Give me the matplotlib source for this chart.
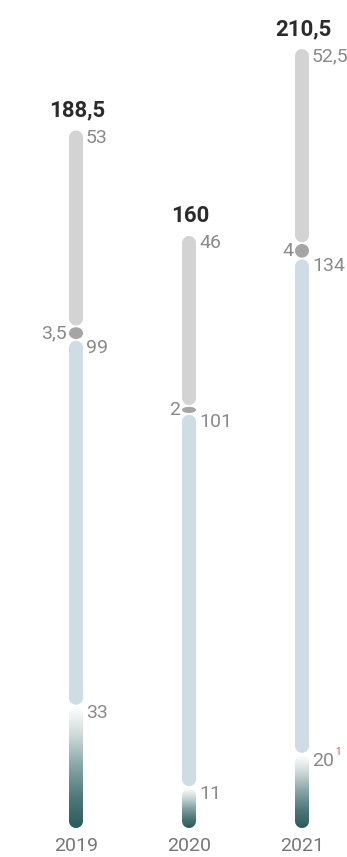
import numpy as np
import matplotlib
matplotlib.use("Agg")
import matplotlib.pyplot as plt
from matplotlib.path import Path
from matplotlib.patches import PathPatch, Ellipse
from matplotlib.colors import LinearSegmentedColormap

# ---- data ----
years = ["2019", "2020", "2021"]
seg_bottom = [33, 11, 20]          # gradient segment
seg_blue = [99, 101, 134]
seg_small = [3.5, 2, 4]            # grey dot
seg_top = [53, 46, 52.5]
totals = ["188,5", "160", "210,5"]
lbl_bottom = ["33", "11", "20"]
lbl_blue = ["99", "101", "134"]
lbl_small = ["3,5", "2", "4"]
lbl_top = ["53", "46", "52,5"]
footnote = [None, None, "1"]

# ---- styling ----
W, H = 347, 857
DPI = 100
PX_PER_UNIT = 3.70
BASE_PX = 29          # bar bottom distance from figure bottom (px)
X0_PX = 76            # centre of first bar (px)
STEP_PX = 113         # spacing between bars (px)
BAR_W_PX = 14
GAP_PX = 1.2

C_TOP = "#d3d3d3"
C_DOT = "#a5a5a5"
C_BLUE = "#cddde3"
C_TEAL = "#2b5a5c"
C_TXT = "#8a8a8a"
C_TOTAL = "#2b2b2b"
C_YEAR = "#777777"
C_RED = "#e8414b"

fig = plt.figure(figsize=(W / DPI, H / DPI), dpi=DPI)
ax = fig.add_axes([0, 0, 1, 1])
ax.set_xlim(-X0_PX / STEP_PX, (W - X0_PX) / STEP_PX)
ax.set_ylim(-BASE_PX / PX_PER_UNIT, (H - BASE_PX) / PX_PER_UNIT)
ax.axis("off")

ux = 1.0 / STEP_PX        # x data units per px
uy = 1.0 / PX_PER_UNIT    # y data units per px
rx = BAR_W_PX / 2 * ux
ry = BAR_W_PX / 2 * uy
gap = GAP_PX * uy


def capsule(xc, y0, y1):
    """Path of a vertical capsule (rounded ends) in data coords."""
    t = np.linspace(0, np.pi, 40)
    top_c = y1 - ry
    bot_c = y0 + ry
    xs_top = xc + rx * np.cos(t)
    ys_top = top_c + ry * np.sin(t)
    xs_bot = xc - rx * np.cos(t)
    ys_bot = bot_c - ry * np.sin(t)
    verts = np.vstack([np.column_stack([xs_top, ys_top]),
                       np.column_stack([xs_bot, ys_bot])])
    verts = np.vstack([verts, verts[:1]])
    codes = [Path.MOVETO] + [Path.LINETO] * (len(verts) - 2) + [Path.CLOSEPOLY]
    return Path(verts, codes)


cmap = LinearSegmentedColormap.from_list(
    "tealfade", ["#ffffff", "#c9d6d6", "#85a3a4", "#4f7878", C_TEAL])

fs_val = 14
fam = ["Roboto", "DejaVu Sans"]

for i, yr in enumerate(years):
    x = i
    b = seg_bottom[i]
    bl = seg_blue[i]
    sm = seg_small[i]
    tp = seg_top[i]

    # gradient bottom segment (white at top, dark teal at bottom)
    y0, y1 = 0, b
    p = capsule(x, y0, y1 - gap)
    patch = PathPatch(p, facecolor="none", edgecolor="none")
    ax.add_patch(patch)
    grad = np.linspace(0, 1, 256).reshape(-1, 1)
    im = ax.imshow(grad, cmap=cmap, aspect="auto",
                   extent=(x - rx, x + rx, y0, y1 - gap),
                   origin="upper", interpolation="bilinear", zorder=2)
    im.set_clip_path(patch)

    # blue segment
    y0, y1 = b, b + bl
    ax.add_patch(PathPatch(capsule(x, y0 + gap, y1 - gap),
                           facecolor=C_BLUE, edgecolor="none", zorder=2))

    # small grey dot
    y0, y1 = b + bl, b + bl + sm
    ax.add_patch(Ellipse((x, (y0 + y1) / 2), 2 * rx, (y1 - y0) - gap,
                         facecolor=C_DOT, edgecolor="none", zorder=3))

    # grey top segment
    y0, y1 = b + bl + sm, b + bl + sm + tp
    ax.add_patch(PathPatch(capsule(x, y0 + gap, y1),
                           facecolor=C_TOP, edgecolor="none", zorder=2))

    # labels
    dx = 10 * ux
    off = 7 * uy
    top_b = b
    top_bl = b + bl
    top_all = b + bl + sm + tp
    t_b = ax.text(x + dx, top_b - off, lbl_bottom[i], ha="left", va="center",
                  fontsize=fs_val, color=C_TXT, family=fam)
    ax.text(x + dx, top_bl - off - 1 * uy, lbl_blue[i], ha="left", va="center",
            fontsize=fs_val, color=C_TXT, family=fam)
    ax.text(x + dx, top_all - off, lbl_top[i], ha="left", va="center",
            fontsize=fs_val, color=C_TXT, family=fam)
    ax.text(x - 9 * ux, b + bl + sm / 2, lbl_small[i], ha="right", va="center",
            fontsize=fs_val, color=C_TXT, family=fam)
    if footnote[i]:
        ax.annotate(footnote[i], xy=(1.0, 1.0), xycoords=t_b,
                    xytext=(0.8, 3.5), textcoords="offset points",
                    ha="left", va="top", fontsize=7, color=C_RED, family=fam)

    # total
    ax.text(x + 1 * ux, top_all + 20 * uy, totals[i], ha="center", va="center",
            fontsize=16, fontweight="bold", color=C_TOTAL, family=fam)
    # year
    ax.text(x, -18 * uy, yr, ha="center", va="center",
            fontsize=fs_val, color=C_YEAR, family=fam)

fig.savefig("out.png", dpi=DPI)
